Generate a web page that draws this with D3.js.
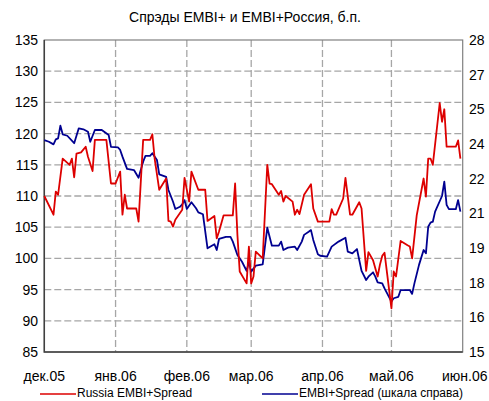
<!DOCTYPE html>
<html>
<head>
<meta charset="utf-8">
<script src="https://cdn.jsdelivr.net/npm/d3@7"></script>
<style>
body { margin: 0; background: #fff; }
text { font-family: Arial, "Liberation Sans", sans-serif; fill: #000; }
</style>
</head>
<body>
<div id="chart"></div>
<script>
var redDates = ["2005-12-01","2005-12-05","2005-12-06","2005-12-07","2005-12-09","2005-12-12","2005-12-13","2005-12-14","2005-12-15","2005-12-17",
    "2005-12-19","2005-12-20","2005-12-22","2005-12-23","2005-12-28","2005-12-30","2006-01-01","2006-01-03","2006-01-04","2006-01-05",
    "2006-01-06","2006-01-10","2006-01-11","2006-01-13","2006-01-16","2006-01-17","2006-01-18","2006-01-20","2006-01-23","2006-01-24",
    "2006-01-25","2006-01-26","2006-01-27","2006-01-30","2006-01-31","2006-02-02","2006-02-03","2006-02-06","2006-02-09","2006-02-10",
    "2006-02-13","2006-02-14","2006-02-15","2006-02-17","2006-02-21","2006-02-22","2006-02-23","2006-02-24","2006-02-27","2006-02-28",
    "2006-03-01","2006-03-02","2006-03-03","2006-03-06","2006-03-08","2006-03-09","2006-03-10","2006-03-13","2006-03-14","2006-03-15",
    "2006-03-16","2006-03-19","2006-03-20","2006-03-21","2006-03-22","2006-03-24","2006-03-27","2006-03-28","2006-03-30","2006-04-04",
    "2006-04-05","2006-04-06","2006-04-07","2006-04-10","2006-04-11","2006-04-13","2006-04-14","2006-04-17","2006-04-18","2006-04-20",
    "2006-04-21","2006-04-23","2006-04-25","2006-04-26","2006-04-27","2006-04-28","2006-05-01","2006-05-02","2006-05-03","2006-05-05",
    "2006-05-08","2006-05-09","2006-05-10","2006-05-12","2006-05-15","2006-05-16","2006-05-17","2006-05-18","2006-05-19","2006-05-22",
    "2006-05-23","2006-05-24","2006-05-25","2006-05-29","2006-05-30","2006-05-31"];
var redValues = [110,107,110.7,110.2,116,115,116,113,116.8,117,
    117.9,116.3,114,119,119,112,112,113.9,107,110.2,
    108,108,105.9,119,119,119.9,116,111,112.8,106,
    105.9,105.1,106.2,107.8,112.9,109.1,113.9,111,111,106,
    106.8,103.2,104.3,106.9,106.9,112,103.8,97.9,96,101.9,
    96,97.1,101.1,100,115,112,111.9,110.2,110.8,109.1,
    110,109.1,107,107.8,107.1,110.2,111.9,108,105.9,105.9,
    107.9,107,107,109.6,112.9,107,107,109,108,98,
    101,99.7,97.1,99,100.4,100.9,92,97.9,97.1,102.8,
    102.1,101.9,100,106.9,112.8,109.9,116,116,115,124.9,
    121.9,123.9,117.9,117.9,118.9,116];

var blueDates = ["2005-12-01","2005-12-03","2005-12-05","2005-12-06","2005-12-07","2005-12-08","2005-12-09","2005-12-11","2005-12-14","2005-12-16",
    "2005-12-18","2005-12-20","2005-12-21","2005-12-23","2005-12-26","2005-12-29","2005-12-30","2006-01-02","2006-01-03","2006-01-04",
    "2006-01-06","2006-01-09","2006-01-11","2006-01-13","2006-01-14","2006-01-16","2006-01-17","2006-01-19","2006-01-20","2006-01-23",
    "2006-01-24","2006-01-26","2006-01-27","2006-01-29","2006-01-30","2006-01-31","2006-02-01","2006-02-03","2006-02-05","2006-02-06",
    "2006-02-08","2006-02-10","2006-02-13","2006-02-14","2006-02-15","2006-02-18","2006-02-20","2006-02-21","2006-02-23","2006-02-25",
    "2006-02-27","2006-02-28","2006-03-01","2006-03-03","2006-03-06","2006-03-08","2006-03-10","2006-03-13","2006-03-14","2006-03-15",
    "2006-03-17","2006-03-20","2006-03-21","2006-03-23","2006-03-24","2006-03-26","2006-03-27","2006-03-28","2006-03-30","2006-03-31",
    "2006-04-03","2006-04-05","2006-04-08","2006-04-11","2006-04-12","2006-04-14","2006-04-16","2006-04-18","2006-04-20","2006-04-21",
    "2006-04-23","2006-04-24","2006-04-25","2006-04-27","2006-04-28","2006-05-01","2006-05-02","2006-05-04","2006-05-05","2006-05-09",
    "2006-05-10","2006-05-11","2006-05-13","2006-05-15","2006-05-16","2006-05-17","2006-05-18","2006-05-19","2006-05-20","2006-05-23",
    "2006-05-24","2006-05-25","2006-05-26","2006-05-29","2006-05-30","2006-05-31"];
var blueValues = [23.83,23.76,23.65,23.86,23.9,24.43,24.07,24.01,23.7,24.32,
    24.28,24.18,23.76,24.25,24.25,24.04,23.55,23.53,23.42,23.14,
    22.63,22.58,22.26,22.93,23.17,23.17,23.28,23.0,22.4,22.3,
    21.75,21.26,20.96,21.05,21.15,21.33,20.96,21.24,20.99,20.82,
    20.74,19.32,19.49,19.25,19.71,19.8,19.8,19.6,19.04,18.76,
    18.38,18.74,18.35,18.6,18.65,20.18,19.43,19.43,19.6,19.25,
    19.35,19.39,19.25,19.6,19.88,20.01,20.08,19.67,19.07,19.01,
    18.97,19.39,19.6,19.76,19.18,19.11,19.29,18.38,18.0,18.14,
    18.32,18.14,17.9,17.86,17.65,17.1,17.24,17.3,17.58,17.58,
    17.42,17.86,18.63,19.25,19.11,20.22,20.39,20.43,20.85,21.5,
    22.1,21.13,20.95,20.95,21.33,20.85];

var monthNames = ["янв","фев","мар","апр","май","июн","июл","авг","сен","окт","ноя","дек"];
var leftTicks = [85,90,95,100,105,110,115,120,125,130,135];
var titleText = "Спрэды EMBI+ и EMBI+Россия, б.п.";
var redName = "Russia EMBI+Spread";
var blueName = "EMBI+Spread (шкала справа)";

var width = 489, height = 401;
var plotL = 44.3, plotR = 462.7, plotT = 40, plotB = 352;

var parse = d3.timeParse("%Y-%m-%d");
var redData = redDates.map(function(d, i) { return {date: parse(d), value: redValues[i]}; });
var blueData = blueDates.map(function(d, i) { return {date: parse(d), value: blueValues[i]}; });

var x = d3.scaleTime()
    .domain([new Date(2005, 11, 1), new Date(2006, 5, 1)])
    .range([plotL, plotR]);
var yLeft = d3.scaleLinear().domain([85, 135]).range([plotB, plotT]);
var yRight = d3.scaleLinear().domain([15, 28]).range([plotB, plotT]);
var rightTicks = d3.range(10).map(function(i) { return 15 + i * 13 / 9; });

var svg = d3.select("#chart")
    .append("svg")
    .attr("width", width)
    .attr("height", height);

svg.append("text")
    .attr("x", 245)
    .attr("y", 22)
    .attr("text-anchor", "middle")
    .attr("font-size", 14)
    .text(titleText);

// grid
svg.append("g")
    .selectAll("line")
    .data(leftTicks.slice(1, -1))
    .enter()
    .append("line")
    .attr("x1", plotL).attr("x2", plotR)
    .attr("y1", function(d) { return yLeft(d); })
    .attr("y2", function(d) { return yLeft(d); })
    .attr("stroke", "#a6a6a6")
    .attr("stroke-width", 1.3)
    .attr("stroke-dasharray", "7,3");

var months = x.ticks(d3.timeMonth.every(1));
svg.append("g")
    .selectAll("line")
    .data(months.slice(1, -1))
    .enter()
    .append("line")
    .attr("x1", function(d) { return x(d); })
    .attr("x2", function(d) { return x(d); })
    .attr("y1", plotT).attr("y2", plotB)
    .attr("stroke", "#a6a6a6")
    .attr("stroke-width", 1.3)
    .attr("stroke-dasharray", "7,3");

// frame
svg.append("rect")
    .attr("x", plotL).attr("y", plotT)
    .attr("width", plotR - plotL).attr("height", plotB - plotT)
    .attr("fill", "none")
    .attr("stroke", "#808080")
    .attr("stroke-width", 1.2);
svg.append("path")
    .attr("d", "M" + plotL + "," + plotT + "V" + plotB + "H" + plotR)
    .attr("fill", "none")
    .attr("stroke", "#404040")
    .attr("stroke-width", 1.5);

// axes labels
svg.append("g")
    .selectAll("text")
    .data(leftTicks)
    .enter()
    .append("text")
    .attr("x", 38)
    .attr("y", function(d) { return yLeft(d) + 5; })
    .attr("text-anchor", "end")
    .attr("font-size", 14)
    .text(function(d) { return d; });

svg.append("g")
    .selectAll("text")
    .data(rightTicks)
    .enter()
    .append("text")
    .attr("x", 469)
    .attr("y", function(d) { return yRight(d) + 5; })
    .attr("text-anchor", "start")
    .attr("font-size", 14)
    .text(function(d) { return Math.round(d); });

svg.append("g")
    .selectAll("text")
    .data(months)
    .enter()
    .append("text")
    .attr("x", function(d, i) { return x(d) + (i == months.length - 1 ? 2 : 0); })
    .attr("y", 381)
    .attr("text-anchor", "middle")
    .attr("font-size", 14)
    .text(function(d) {
        return monthNames[d.getMonth()] + "." + d3.timeFormat("%y")(d);
    });

// lines
var redLine = d3.line()
    .x(function(d) { return x(d.date); })
    .y(function(d) { return yLeft(d.value); });
var blueLine = d3.line()
    .x(function(d) { return x(d.date); })
    .y(function(d) { return yRight(d.value); });

svg.append("path")
    .datum(blueData)
    .attr("d", blueLine)
    .attr("fill", "none")
    .attr("stroke", "#000090")
    .attr("stroke-width", 1.8)
    .attr("stroke-linejoin", "round");

svg.append("path")
    .datum(redData)
    .attr("d", redLine)
    .attr("fill", "none")
    .attr("stroke", "#dd0000")
    .attr("stroke-width", 1.8)
    .attr("stroke-linejoin", "round");

// legend
var legend = [
    {name: redName, color: "#dd0000", x: 40},
    {name: blueName, color: "#000090", x: 262}
];
var lg = svg.selectAll(".legend")
    .data(legend)
    .enter()
    .append("g")
    .attr("class", "legend");
lg.append("line")
    .attr("x1", function(d) { return d.x; })
    .attr("x2", function(d) { return d.x + 36; })
    .attr("y1", 394).attr("y2", 394)
    .attr("stroke", function(d) { return d.color; })
    .attr("stroke-width", 1.5);
lg.append("text")
    .attr("x", function(d) { return d.x + 37; })
    .attr("y", 397)
    .attr("font-size", 12)
    .text(function(d) { return d.name; });
</script>
</body>
</html>
